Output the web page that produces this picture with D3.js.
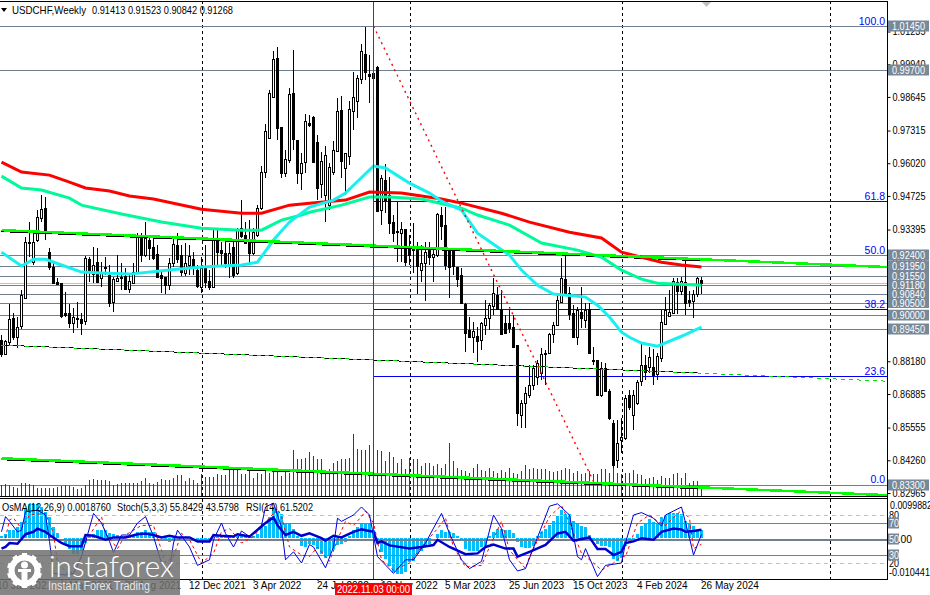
<!DOCTYPE html>
<html><head><meta charset="utf-8">
<style>html,body{margin:0;padding:0;background:#fff}svg{display:block}text{font-family:"Liberation Sans",Arial,sans-serif}</style>
<script src="https://cdn.jsdelivr.net/npm/d3@7"></script></head><body><svg id="c" width="930" height="595"></svg>
<script>
// Prices are in 1/10000 CHF.
const opens=[8902,8846,8894,8989,8913,8957,9068,9286,9210,9298,9385,9424,9250,9191,9131,9127,9008,9008,8969,8989,8985,8977,9222,9163,9210,9147,9191,9159,9052,9135,9151,9155,9104,9127,9171,9309,9238,9298,9270,9242,9159,9151,9119,9207,9278,9238,9167,9199,9222,9179,9112,9187,9135,9112,9302,9258,9246,9199,9270,9167,9345,9317,9298,9246,9317,9424,9567,9702,9864,10018,9745,9563,9614,9880,9694,9563,9606,9761,9785,9686,9519,9476,9436,9567,9650,9812,9583,9630,9808,9848,9935,10034,9955,9959,9983,9416,9535,9476,9369,9333,9325,9341,9270,9262,9262,9179,9207,9258,9230,9238,9397,9357,9258,9254,9191,9159,9044,8941,8913,8917,8902,8961,8989,9036,9080,9024,8969,8969,8953,8882,8605,8652,8684,8723,8755,8771,8850,8850,8925,8961,9052,9143,9088,9008,8913,9012,8981,9024,8822,8822,8684,8791,8700,8573,8426,8506,8513,8684,8605,8652,8739,8803,8795,8795,8767,8830,8965,8997,9008,9131,9096,9131,9060,9056,9084,9141];
const highs=[8921,8902,9044,9008,8993,9100,9309,9369,9337,9416,9476,9468,9266,9207,9147,9127,9092,9044,9028,9052,9008,9234,9230,9270,9266,9210,9230,9199,9151,9238,9207,9187,9167,9207,9325,9325,9369,9309,9309,9278,9179,9151,9226,9309,9325,9278,9286,9278,9250,9199,9230,9278,9179,9337,9337,9290,9298,9286,9290,9345,9456,9369,9377,9345,9436,9591,9757,9892,10046,10062,9745,9654,9900,10050,9694,9642,9797,9793,9789,9713,9646,9670,9603,9690,9860,9868,9642,9848,9963,9951,10074,10141,10030,9968,9987,9555,9599,9547,9397,9448,9369,9341,9317,9365,9290,9278,9290,9290,9262,9404,9428,9428,9258,9258,9191,9187,9048,8993,8973,8953,8973,9060,9048,9147,9112,9100,9001,9020,9001,8882,8664,8715,8803,8803,8822,8870,8862,8929,8973,9080,9226,9234,9112,9040,9032,9112,9048,9048,8874,8822,8814,8810,8708,8585,8585,8593,8684,8704,8704,8743,8890,8842,8874,8866,8850,9020,9072,9100,9147,9147,9151,9218,9096,9100,9151,9152];
const lows=[8834,8842,8882,8902,8870,8945,9068,9230,9199,9290,9369,9298,9179,9123,9123,8989,8993,8949,8929,8949,8921,8961,9131,9127,9127,9112,9159,9032,9012,9135,9100,9100,9088,9127,9171,9210,9230,9218,9218,9151,9088,9084,9100,9191,9207,9155,9155,9159,9159,9108,9088,9108,9100,9108,9199,9199,9187,9147,9147,9159,9306,9286,9199,9238,9309,9416,9543,9702,9864,9694,9543,9547,9603,9654,9519,9496,9563,9745,9603,9456,9464,9369,9416,9555,9646,9543,9476,9595,9733,9781,9915,9931,9840,9939,9408,9357,9404,9321,9290,9210,9210,9195,9199,9167,9084,9131,9056,9199,9131,9230,9298,9179,9068,9159,9112,9048,8854,8913,8850,8814,8862,8921,8941,9001,9020,8921,8929,8929,8870,8561,8553,8553,8672,8704,8723,8743,8723,8850,8890,8957,9052,9088,8981,8913,8882,8949,8949,8850,8803,8684,8676,8700,8585,8395,8395,8454,8506,8624,8545,8644,8719,8743,8771,8723,8743,8814,8961,8993,9008,9005,9080,9001,9032,8989,9072,9084];
const closes=[8846,8898,8985,8913,8953,9080,9290,9290,9290,9389,9420,9325,9191,9127,9123,8997,9001,8969,8993,8985,8969,9226,9171,9199,9131,9171,9187,9048,9143,9147,9147,9104,9135,9171,9317,9238,9306,9266,9226,9151,9147,9119,9207,9282,9222,9171,9207,9234,9191,9115,9187,9131,9112,9306,9250,9246,9207,9246,9159,9337,9313,9286,9246,9329,9424,9567,9729,9880,10014,9741,9563,9618,9876,9698,9563,9603,9769,9753,9606,9504,9610,9634,9587,9654,9808,9610,9642,9816,9864,9939,10046,9963,9947,9939,9412,9543,9456,9365,9325,9329,9341,9210,9238,9258,9195,9207,9250,9230,9242,9400,9353,9199,9191,9195,9143,9048,8929,8913,8937,8898,8969,8989,9040,9088,9024,8925,8929,8949,8874,8612,8652,8692,8723,8791,8810,8846,8846,8925,8961,9060,9147,9088,9005,8913,9020,8989,9020,8850,8818,8684,8791,8700,8593,8407,8494,8517,8672,8636,8684,8735,8803,8775,8834,8763,8838,8973,9020,9012,9135,9096,9135,9048,9052,9084,9147,9127];
const volumes=[11,12,11,9,8,13,13,12,11,8,8,8,8,8,9,10,11,10,9,7,8,11,16,17,16,16,16,15,11,12,13,13,13,13,13,15,18,13,12,14,17,16,16,18,21,21,15,18,16,13,22,19,19,19,22,21,21,28,28,28,22,22,27,18,23,22,26,23,27,27,20,25,23,46,37,37,38,44,40,37,37,25,27,33,35,37,37,38,62,47,46,46,51,40,46,45,35,44,39,33,37,27,38,37,37,30,33,33,30,32,28,32,53,35,28,26,25,23,28,32,26,25,28,25,23,26,24,28,23,22,25,31,27,28,27,27,27,25,24,25,26,28,27,23,25,22,23,25,22,22,27,27,23,28,23,22,23,23,26,22,21,17,18,19,16,20,18,18,22,23,18,23,13,15,15,7];
const osma=[3,9,20,20,26,39,72,85,85,85,76,64,53,26,12,0,-16,-29,-41,-41,-35,-13,5,9,18,20,18,12,9,7,5,3,5,5,15,15,18,15,13,3,-2,-8,-12,-8,-2,3,-2,0,-2,-5,-8,-10,-10,-2,3,3,5,2,2,3,3,2,2,3,9,26,30,51,76,68,60,34,34,22,3,-20,-24,-16,-18,-29,-41,-52,-45,-29,-18,-16,-12,3,18,26,37,37,34,18,-8,-37,-54,-71,-87,-93,-92,-86,-62,-58,-41,-33,-20,-16,-2,9,20,13,15,12,3,-8,-29,-35,-35,-35,-24,-20,3,13,22,22,20,19,12,-12,-24,-27,-27,-20,3,13,22,32,43,55,70,60,60,43,34,29,26,7,-8,-16,-20,-20,-24,-54,-58,-52,-20,-12,-8,9,30,37,47,40,37,51,57,62,62,61,60,43,37,29,20,19];
// [bar, price] read at the turning points of each moving average
const maRed=[[0,9606],[5,9567],[12,9555],[17,9527],[21,9504],[27,9492],[32,9472],[38,9460],[50,9420],[60,9404],[65,9404],[72,9436],[77,9444],[86,9456],[92,9488],[100,9484],[110,9460],[115,9444],[125,9404],[132,9369],[142,9329],[150,9306],[155,9250],[160,9230],[165,9210],[170,9199],[175,9191]];
const maTeal=[[0,9551],[5,9504],[10,9496],[17,9464],[20,9436],[30,9401],[40,9369],[50,9345],[60,9337],[65,9337],[70,9377],[75,9397],[77,9408],[85,9436],[92,9468],[97,9468],[105,9460],[115,9424],[119,9397],[127,9357],[135,9286],[144,9258],[150,9230],[155,9179],[160,9143],[164,9127],[175,9119]];
const maCyan=[[0,9250],[5,9195],[8,9222],[11,9222],[15,9199],[20,9171],[25,9167],[32,9163],[42,9179],[50,9191],[60,9199],[64,9210],[68,9298],[72,9369],[77,9428],[83,9456],[86,9484],[93,9591],[96,9583],[100,9543],[102,9523],[107,9484],[110,9452],[115,9416],[119,9325],[124,9270],[127,9238],[130,9179],[134,9119],[138,9084],[146,9072],[149,9040],[152,8993],[155,8933],[157,8913],[160,8890],[164,8878],[170,8917],[175,8953]];
const rsi=[[0,38],[1,40],[2,45],[4,44],[5,50],[6,56],[8,59],[9,63],[11,59],[12,55],[15,45],[17,41],[20,41],[21,55],[23,54],[26,49],[28,52],[31,52],[34,56],[36,57],[38,55],[40,52],[42,54],[44,52],[47,52],[49,47],[52,47],[53,55],[55,54],[58,53],[59,56],[62,53],[66,70],[68,77],[69,67],[71,55],[73,59],[75,54],[77,57],[80,51],[81,48],[83,54],[85,52],[88,59],[90,62],[93,59],[94,45],[95,47],[97,42],[102,38],[105,40],[108,42.5],[109,49],[112,40],[116,31],[119,32],[121,40],[123,43],[126,38],[128,38],[129,28],[132,34],[136,42.5],[139,57],[141,59],[143,48],[147,52],[149,37.5],[151,37.5],[153,30],[155,34],[156,45],[158,47],[160,51],[163,49],[165,59],[168,63],[170,62],[171,59],[173,60],[175,61.52]];
const stochMain=[[0,59],[1,78],[2,72],[4,59],[5,61],[6,84],[9,86],[11,80],[12,47],[13,7],[16,5],[18,7],[20,28],[23,82],[25,70],[27,47],[28,33],[30,55],[32,55],[34,70],[36,78],[38,53],[40,20],[42,11],[43,45],[44,61],[47,40],[49,17],[52,24],[53,49],[55,70],[56,57],[58,40],[60,60],[62,53],[65,67],[66,90],[68,95],[70,65],[71,24],[73,34],[75,20],[77,43],[78,40],[81,14],[83,40],[84,76],[85,72],[88,80],[90,90],[92,80],[94,28],[98,7],[101,24],[103,24],[106,45],[110,82],[112,57],[115,24],[117,13],[120,22],[123,80],[125,63],[127,24],[129,10],[131,13],[135,65],[137,91],[139,94],[142,80],[144,28],[145,24],[146,38],[149,3],[151,17],[155,20],[156,45],[158,80],[160,83],[163,76],[165,66],[166,80],[170,90],[172,51],[173,30],[175,55.84]];
const stochSignal=[[1,51],[2,74],[3,76],[5,63],[7,80],[11,82],[13,57],[14,20],[17,5],[20,28],[21,47],[25,78],[26,57],[29,38],[31,55],[35,67],[38,67],[40,36],[41,20],[43,28],[45,57],[47,49],[50,20],[53,32],[55,59],[57,63],[60,45],[63,53],[65,65],[69,88],[70,78],[72,40],[75,30],[77,28],[79,40],[82,22],[84,49],[86,72],[88,67],[90,78],[91,85],[93,70],[95,24],[98,11],[102,20],[105,40],[109,63],[111,76],[113,40],[116,15],[120,17],[122,40],[125,72],[127,36],[131,13],[132,28],[137,78],[140,92],[142,70],[145,32],[148,20],[150,11],[153,20],[155,28],[156,28],[159,70],[162,80],[164,72],[166,67],[170,86],[172,76],[173,38],[175,43.58]];
const trendTop=[[0,9337],[221.5,9191]];
const trendMid=[[0,8882],[175,8771],[221.5,8739]];
const trendLow=[[0,8434],[221.5,8288]];
const fibDiag=[[93,1.0145],[148.4,0.833]];
const hLevels=[1.0145,0.997,0.924,0.9195,0.9155,0.9118,0.9084,0.905,0.9,0.8945,0.833];
const fibBlue=[0.9452,0.9023,0.8758];
const fibLabels=[["100.0",1.0145],["61.8",0.9452],["50.0",0.92375],["38.2",0.9023],["23.6",0.8758],["0.0",0.833]];
const priceTicks=[1.01235,0.9994,0.98645,0.97315,0.9602,0.94725,0.93395,0.921,0.90805,0.89475,0.8818,0.86885,0.85555,0.8426,0.82965];
const timeBars=[-1,15,31,47,63,79,95,111,127,143,159,175];
const timeLabels=["10 Jan 2021","2 May 2021","22 Aug 2021","12 Dec 2021","3 Apr 2022","24 Jul 2022","13 Nov 2022","5 Mar 2023","25 Jun 2023","15 Oct 2023","4 Feb 2024","26 May 2024"];
const yearSepBars=[50,102,155,207.2];
const cursorBar=93;
const bid=0.91268;

const svg=d3.select("#c");
const W=887,T=1,MB=497,SB=579;
const x=d3.scaleLinear([0,175],[1.5,701.5]);
const yP=d3.scaleLinear([1.01235,0.82965],[31.5,493]);
const yPip=v=>yP(v/1e4);
const yVol=d3.scaleLinear([0,100],[496,396]);
const yS=d3.scaleLinear([0,100],[579,499]);
const yO=d3.scaleLinear([-0.010441,0.0099882],[579,498]);
const snap=v=>Math.round(v)+.5;
const gray="#708090",boxGray="#778899";
const chart=svg.append("g");
const lineP=d3.line().x(d=>x(d[0])).y(d=>yPip(d[1]));
const lineS=d3.line().x(d=>x(d[0])).y(d=>yS(d[1]));

// year separators
chart.selectAll(".sep").data(yearSepBars).join("line").attr("x1",d=>snap(x(d))).attr("x2",d=>snap(x(d))).attr("y1",T).attr("y2",SB).attr("stroke","#000").attr("stroke-dasharray","3,3").attr("shape-rendering","crispEdges");

// levels
chart.selectAll(".lv").data(hLevels).join("line").attr("x1",0).attr("x2",W).attr("y1",d=>snap(yP(d))).attr("y2",d=>snap(yP(d))).attr("stroke",gray).attr("shape-rendering","crispEdges");
chart.append("line").attr("x1",0).attr("x2",W).attr("y1",snap(yP(bid))).attr("y2",snap(yP(bid))).attr("stroke","#c0c0c0").attr("shape-rendering","crispEdges");
chart.selectAll(".fb").data(fibBlue).join("line").attr("x1",x(cursorBar)).attr("x2",W).attr("y1",d=>snap(yP(d))).attr("y2",d=>snap(yP(d))).attr("stroke","#0000ee").attr("shape-rendering","crispEdges");

// volumes
chart.selectAll(".vol").data(volumes).join("line").attr("x1",(d,i)=>x(i)).attr("x2",(d,i)=>x(i)).attr("y1",MB-1).attr("y2",d=>Math.round(yVol(d))).attr("stroke","#006400").attr("shape-rendering","crispEdges");

// candles
const cg=chart.append("g").attr("shape-rendering","crispEdges");
d3.range(opens.length).forEach(i=>{
  const cx=x(i),up=closes[i]>=opens[i];
  cg.append("line").attr("x1",cx).attr("x2",cx).attr("y1",Math.round(yPip(highs[i]))).attr("y2",Math.round(yPip(lows[i]))).attr("stroke","#000");
  const t=snap(yPip(Math.max(opens[i],closes[i]))),b=snap(yPip(Math.min(opens[i],closes[i])));
  cg.append("rect").attr("x",cx-1).attr("width",2).attr("y",t).attr("height",Math.max(b-t,0.01)).attr("fill",up?"#fff":"#000").attr("stroke","#000");
});

// trendlines
[[trendTop,175],[trendLow,175]].forEach(([tl])=>{
  const s=(tl[1][1]-tl[0][1])/(tl[1][0]-tl[0][0]);
  chart.append("path").attr("d",lineP([tl[0],[175,tl[0][1]+s*175]])).attr("transform","translate(0,1.5)").attr("fill","none").attr("stroke","#000").attr("shape-rendering","crispEdges");
});
chart.append("path").attr("d",lineP(trendMid.slice(0,2))).attr("fill","none").attr("stroke","#000").attr("shape-rendering","crispEdges");
chart.append("path").attr("d",lineP(trendMid)).attr("fill","none").attr("stroke","#00dd00").attr("stroke-dasharray","4,4").attr("shape-rendering","crispEdges");
[[maRed,"#ff0000"],[maTeal,"#00fa9a"],[maCyan,"#18f0f0"]].forEach(([d,c])=>chart.append("path").attr("d",lineP(d)).attr("fill","none").attr("stroke",c).attr("stroke-width",3));
[trendTop,trendLow].forEach(d=>chart.append("path").attr("d",lineP(d)).attr("fill","none").attr("stroke","#00ff00").attr("stroke-width",2.5).attr("shape-rendering","crispEdges"));
chart.append("path").attr("d",d3.line().x(d=>x(d[0])).y(d=>yP(d[1]))(fibDiag)).attr("fill","none").attr("stroke","#ff0000").attr("stroke-width",1.4).attr("stroke-dasharray","2,4");

// sub window levels
const sl=chart.append("g").attr("shape-rendering","crispEdges");
[[80,"#c0c0c0","4,4",1],[20,"#c0c0c0","4,4",1],[70,gray,null,1],[30,gray,null,1],[50,gray,null,2]].forEach(([v,c,da,w])=>sl.append("line").attr("x1",0).attr("x2",W).attr("y1",snap(yS(v))).attr("y2",snap(yS(v))).attr("stroke",c).attr("stroke-dasharray",da).attr("stroke-width",w));
// OsMA
chart.selectAll(".os").data(osma).join("rect").attr("shape-rendering","crispEdges").attr("x",(d,i)=>x(i)-1.5).attr("width",3).attr("y",d=>Math.min(yO(d/1e4),yO(0))).attr("height",d=>Math.abs(yO(d/1e4)-yO(0))).attr("fill","#00bfff");
sl.raise();
chart.append("path").attr("d",lineS(stochSignal)).attr("fill","none").attr("stroke","#ff0000").attr("stroke-dasharray","3,3");
chart.append("path").attr("d",lineS(stochMain)).attr("fill","none").attr("stroke","#0000dd");
chart.append("path").attr("d",lineS(rsi)).attr("fill","none").attr("stroke","#0000cd").attr("stroke-width",2.5);

// cursor line
chart.append("line").attr("x1",x(cursorBar)).attr("x2",x(cursorBar)).attr("y1",T).attr("y2",SB).attr("stroke","#e00000").attr("shape-rendering","crispEdges");

// frame
const fr=svg.append("g").attr("stroke","#000").attr("shape-rendering","crispEdges");
[[0,1.5,W,1.5],[0,496.5,W+1,496.5],[0,498.5,W+1,498.5],[0,579.5,W+1,579.5],[W+.5,1,W+.5,580]].forEach(l=>fr.append("line").attr("x1",l[0]).attr("y1",l[1]).attr("x2",l[2]).attr("y2",l[3]));

// axes
const fit=(sel,s,len,o)=>{sel.text(s).attr("font-size",(o&&o.fs)||10.5).attr("textLength",len).attr("lengthAdjust","spacingAndGlyphs").attr("fill",(o&&o.fill)||"#000");return sel;};
const ax=svg.append("g").attr("transform",`translate(${W+.5},0)`).call(d3.axisRight(yP).tickValues(priceTicks).tickFormat(d3.format(".5f")).tickSize(3).tickPadding(2));
ax.select(".domain").remove();
ax.selectAll("text").attr("font-size",10.5).attr("font-family",'"Liberation Sans"').attr("textLength",33).attr("lengthAdjust","spacingAndGlyphs").attr("fill","#000");
const at=svg.append("g").attr("transform",`translate(0,${SB})`).call(d3.axisBottom(x).tickValues(timeBars).tickFormat((d,i)=>timeLabels[i]).tickSize(2).tickPadding(3));
at.select(".domain").remove();
at.selectAll("text").attr("text-anchor","start").attr("font-size",10).attr("font-family",'"Liberation Sans"').attr("fill","#000").attr("dx",-1).attr("dy",5);

// sub axis text
fit(svg.append("text").attr("x",890).attr("y",509),"0.0099882",42);
fit(svg.append("text").attr("x",889).attr("y",576),"-0.010441",41);
fit(svg.append("text").attr("x",889).attr("y",519),"80",10);
fit(svg.append("text").attr("x",889).attr("y",567),"20",10);
fit(svg.append("text").attr("x",892).attr("y",543),"0.00",20);
[[70],[50],[30]].forEach(([v])=>{
  svg.append("rect").attr("x",888).attr("y",yS(v)-5.5).attr("width",11).attr("height",11).attr("fill",boxGray);
  fit(svg.append("text").attr("x",889).attr("y",yS(v)+4),String(v),10,{fill:"#fff"});
});

// price boxes
hLevels.forEach(v=>{
  const yy=Math.round(yP(v));
  svg.append("rect").attr("x",888).attr("y",yy-5.5).attr("width",41).attr("height",11).attr("fill",boxGray);
});
hLevels.forEach(v=>{
  fit(svg.append("text").attr("x",892).attr("y",Math.round(yP(v))+4),d3.format(".5f")(v),33,{fill:"#fff"});
});
svg.append("rect").attr("x",888).attr("y",308).attr("width",42).attr("height",1.5).attr("fill","#fff");
svg.append("rect").attr("x",888).attr("y",321).attr("width",42).attr("height",1.5).attr("fill","#fff");

// fib labels
fibLabels.forEach(([s,p])=>svg.append("text").attr("x",885).attr("y",yP(p)-1.5).attr("text-anchor","end").attr("font-size",10.5).attr("fill","#0000ff").text(s));

// header
svg.append("path").attr("d",d3.line()([[1,8],[7,8],[4,12]])).attr("fill","#000");
fit(svg.append("text").attr("x",12).attr("y",14),"USDCHF,Weekly",74,{fs:11});
fit(svg.append("text").attr("x",92).attr("y",14),"0.91413 0.91523 0.90842 0.91268",141,{fs:11});
svg.append("path").attr("d",d3.line()([[702,2],[711,2],[706.5,7]])).attr("fill","#c0c0c0");
fit(svg.append("text").attr("x",2).attr("y",511),"OsMA(12,26,9) 0.0018760",109,{fs:11});
fit(svg.append("text").attr("x",117).attr("y",511),"Stoch(5,3,3) 55.8429 43.5798",122,{fs:11});
fit(svg.append("text").attr("x",246).attr("y",511),"RSI(14) 61.5202",67,{fs:11});

// cursor date
svg.append("rect").attr("x",335).attr("y",583).attr("width",77).attr("height",12).attr("fill","#ff0000");
fit(svg.append("text").attr("x",337).attr("y",593),"2022.11.03 00:00",73,{fill:"#fff",fs:11});

// logo
const lg=svg.append("g");
lg.append("rect").attr("x",0).attr("y",550).attr("width",180).attr("height",45).attr("fill","#707070").attr("opacity",.85);
lg.append("circle").attr("cx",24.5).attr("cy",570.5).attr("r",13).attr("fill","none").attr("stroke","#fff").attr("stroke-width",6);
d3.range(10).forEach(k=>lg.append("rect").attr("x",22).attr("y",553).attr("width",5).attr("height",6).attr("fill","#fff").attr("transform",`rotate(${k*36} 24.5 570.5)`));
lg.append("circle").attr("cx",24.5).attr("cy",565).attr("r",3.5).attr("fill","#fff");
lg.append("path").attr("d","M18 569H31V572H27.5V587H21.5V572H18Z").attr("fill","#fff");
svg.append("text").attr("x",49).attr("y",577).attr("font-size",30).attr("font-weight",300).attr("textLength",125).attr("lengthAdjust","spacingAndGlyphs").attr("fill","#fff").style("font-family","Lato").text("instaforex");
svg.append("text").attr("x",48).attr("y",590).attr("font-size",12).attr("textLength",102).attr("lengthAdjust","spacingAndGlyphs").attr("fill","#e6e6e6").text("Instant Forex Trading");
</script></body></html>
